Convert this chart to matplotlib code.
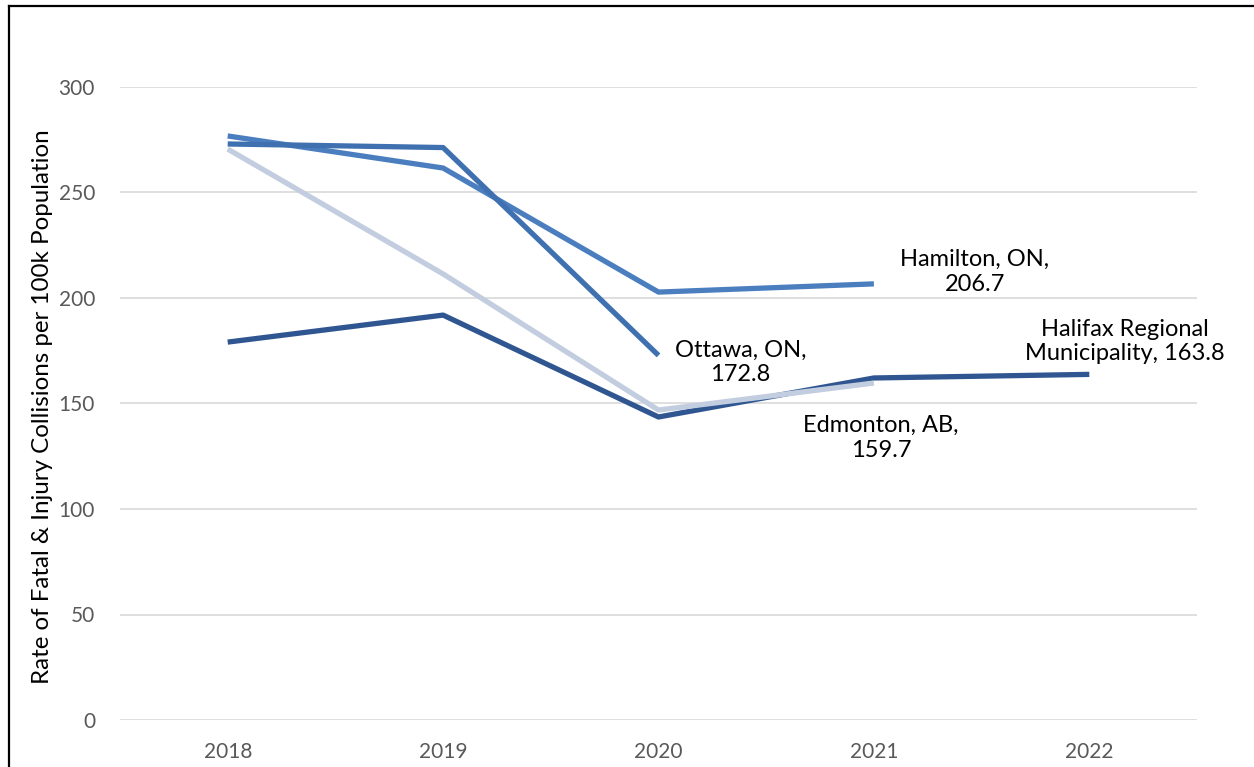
import matplotlib
matplotlib.use("Agg")
import matplotlib.pyplot as plt
from matplotlib.lines import Line2D

years = ["2018", "2019", "2020", "2021", "2022"]
hamilton = [276.8, 261.6, 202.8, 206.7]
ottawa = [273.0, 271.3, 172.8]
edmonton = [270.6, 211.4, 146.9, 159.7]
halifax = [179.1, 191.9, 143.6, 162.1, 163.8]
yticks = [0, 50, 100, 150, 200, 250, 300]

plt.rcParams['font.family'] = ['Lato', 'DejaVu Sans']

W, H = 1254, 767
fig = plt.figure(figsize=(W / 100, H / 100), dpi=100)
ax = fig.add_axes([120 / W, (H - 720) / H, (1197 - 120) / W, (720 - 87) / H])

series = [
    (halifax, "#2f5690", "Halifax Regional\nMunicipality, 163.8", (36, 33)),
    (edmonton, "#c3cde0", "Edmonton, AB,\n159.7", (7, -55)),
    (hamilton, "#4a7ebf", "Hamilton, ON,\n206.7", (101, 12)),
    (ottawa, "#3f70b0", "Ottawa, ON,\n172.8", (82, -7)),
]
for vals, col, lab, off in series:
    xs = list(range(len(vals)))
    ax.plot(xs, vals, color=col, lw=3.8, solid_capstyle='butt',
            solid_joinstyle='round', zorder=3)
    ax.annotate(lab, xy=(xs[-1], vals[-1]), xytext=off, textcoords='offset pixels',
                ha='center', va='center', fontsize=17, color='black',
                linespacing=1.22, zorder=4)

ax.set_xlim(-0.5, 4.5)
ax.set_ylim(0, 300)
ax.set_xticks(range(len(years)))
ax.set_xticklabels(years)
ax.set_yticks(yticks)
ax.tick_params(axis='both', length=0, labelsize=15, colors='#595959')
ax.tick_params(axis='y', pad=18)
ax.tick_params(axis='x', pad=16)
ax.grid(axis='y', color='#d9d9d9', lw=1.2)
ax.set_axisbelow(True)
for s in ax.spines.values():
    s.set_visible(False)
ax.set_ylabel("Rate of Fatal & Injury Collisions per 100k Population",
              fontsize=17.4, color='black')
ax.yaxis.set_label_coords(-67 / (1197 - 120), (720 - 407) / (720 - 87))

# figure border (left and top)
fig.add_artist(Line2D([9 / W, 9 / W], [0, 1 - 6 / H], transform=fig.transFigure,
                      color='black', lw=1.6))
fig.add_artist(Line2D([9 / W, 1], [1 - 6 / H, 1 - 6 / H], transform=fig.transFigure,
                      color='black', lw=1.6))

fig.savefig("out.png", dpi=100)
